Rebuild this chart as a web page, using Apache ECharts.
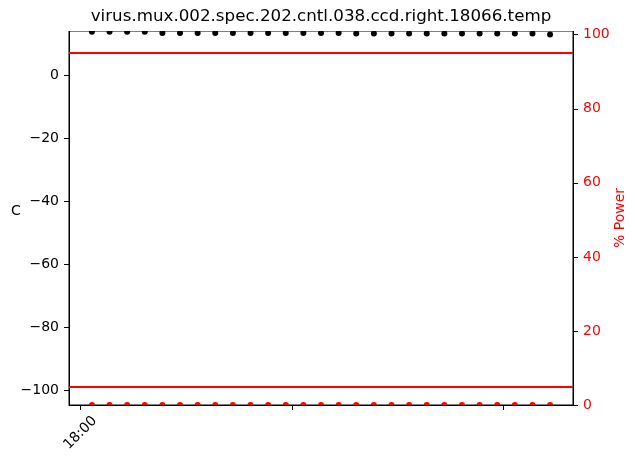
<!DOCTYPE html>
<html>
<head>
<meta charset="utf-8">
<script src="https://cdn.jsdelivr.net/npm/echarts@6/dist/echarts.min.js"></script>
<style>
  html, body { margin: 0; padding: 0; background: #fff; }
  #chart { width: 635px; height: 458px; }
</style>
</head>
<body>
<div id="chart"></div>
<script>
const times = ['18:03:15', '18:08:15', '18:13:15', '18:18:15', '18:23:15', '18:28:15', '18:33:15',
    '18:38:15', '18:43:15', '18:48:15', '18:53:15', '18:58:15', '19:03:15', '19:08:15',
    '19:13:15', '19:18:15', '19:23:15', '19:28:15', '19:33:15', '19:38:15', '19:43:15',
    '19:48:15', '19:53:15', '19:58:15', '20:03:15', '20:08:15', '20:13:15'];
const temps = [13.8, 13.8, 13.8, 13.75, 13.4, 13.4, 13.4, 13.4, 13.4, 13.4, 13.4, 13.4, 13.4, 13.4,
    13.4, 13.2, 13.2, 13.2, 13.2, 13.2, 13.2, 13.2, 13.2, 13.2, 13.2, 13.2, 12.85];
const power = [0, 0, 0, 0, 0, 0, 0, 0, 0, 0, 0, 0, 0, 0, 0, 0, 0, 0, 0, 0, 0, 0, 0, 0, 0, 0, 0];
const powerLimits = [95, 5];
const tempTicks = [-100, -80, -60, -40, -20, 0];
const powerTicks = [0, 20, 40, 60, 80, 100];
const timeTicks = ['18:00', '19:00', '20:00'];
const timeLabels = ['18:00'];

// minutes after 18:00
function toMin(s) {
    const p = s.split(':').map(Number);
    return (p[0] - 18) * 60 + p[1] + (p[2] || 0) / 60;
}
function fromMin(m) {
    const h = 18 + Math.floor(m / 60);
    const mm = Math.round(m % 60);
    return h + ':' + (mm < 10 ? '0' : '') + mm;
}

const font = 'DejaVu Sans';
const chart = echarts.init(document.getElementById('chart'));

const option = {
    animation: false,
    backgroundColor: '#fff',
    title: {
        text: 'virus.mux.002.spec.202.cntl.038.ccd.right.18066.temp',
        left: 316,
        textAlign: 'center',
        top: 3,
        textStyle: { fontFamily: font, fontSize: 16.7, fontWeight: 'normal', color: '#000' }
    },
    grid: {
        left: 69, right: 62, top: 31, bottom: 53,
        outerBoundsMode: 'none',
        containLabel: false,
        show: true, borderColor: '#000', borderWidth: 1, backgroundColor: 'transparent'
    },
    xAxis: {
        type: 'value',
        min: -3.25,
        max: 139.75,
        z: 200,
        splitLine: { show: false },
        axisLine: { show: true, onZero: false, lineStyle: { color: '#000', width: 1 } },
        axisTick: { show: true, length: 5, lineStyle: { color: '#000' }, customValues: timeTicks.map(toMin) },
        axisLabel: {
            customValues: timeLabels.map(toMin),
            formatter: v => fromMin(v),
            rotate: 45, margin: 28,
            align: 'center', verticalAlign: 'middle',
            fontFamily: font, fontSize: 14, color: '#000'
        }
    },
    yAxis: [
        {
            type: 'value',
            min: -104.8,
            max: 14,
            position: 'left',
            name: 'C',
            nameLocation: 'middle',
            nameRotate: 0,
            nameGap: 53,
            nameMoveOverlap: false,
            nameTextStyle: { fontFamily: font, fontSize: 14, color: '#000', align: 'center', verticalAlign: 'bottom' },
            splitLine: { show: false },
            axisLine: { show: true, onZero: false, lineStyle: { color: '#000' } },
            axisTick: { show: true, length: 5, lineStyle: { color: '#000' }, customValues: tempTicks },
            axisLabel: {
                customValues: tempTicks,
                formatter: v => String(v).replace('-', '\u2212'),
                margin: 10, fontFamily: font, fontSize: 14, color: '#000'
            }
        },
        {
            type: 'value',
            min: 0,
            max: 101,
            position: 'right',
            name: '% Power',
            nameLocation: 'middle',
            nameGap: 47,
            nameMoveOverlap: false,
            nameTextStyle: { fontFamily: font, fontSize: 14, color: 'red', align: 'center', verticalAlign: 'middle' },
            splitLine: { show: false },
            axisLine: { show: true, onZero: false, lineStyle: { color: '#000' } },
            axisTick: { show: true, length: 5, lineStyle: { color: '#000' }, customValues: powerTicks },
            axisLabel: {
                customValues: powerTicks,
                margin: 10, fontFamily: font, fontSize: 14, color: 'red'
            }
        }
    ],
    graphic: {
        z: 100,
        elements: [
            // hide the halves of markers that matplotlib clips at the frame
            { type: 'rect', z: 100, silent: true, shape: { x: 69, y: 24, width: 505, height: 7 }, style: { fill: '#fff' } },
            { type: 'rect', z: 100, silent: true, shape: { x: 69, y: 406, width: 505, height: 6 }, style: { fill: '#fff' } }
        ]
    },
    series: [
        {
            type: 'scatter',
            yAxisIndex: 0,
            symbolSize: 6,
            itemStyle: { color: '#000', opacity: 1 },
            data: times.map((t, i) => [toMin(t), temps[i]])
        },
        {
            type: 'scatter',
            yAxisIndex: 1,
            symbolSize: 6,
            itemStyle: { color: 'red', opacity: 1 },
            data: times.map((t, i) => [toMin(t), power[i]]),
            markLine: {
                silent: true,
                symbol: ['none', 'none'],
                label: { show: false },
                lineStyle: { color: 'red', width: 2, type: 'solid', opacity: 1 },
                data: powerLimits.map(v => ({ yAxis: v }))
            }
        }
    ]
};

chart.setOption(option);
</script>
</body>
</html>
